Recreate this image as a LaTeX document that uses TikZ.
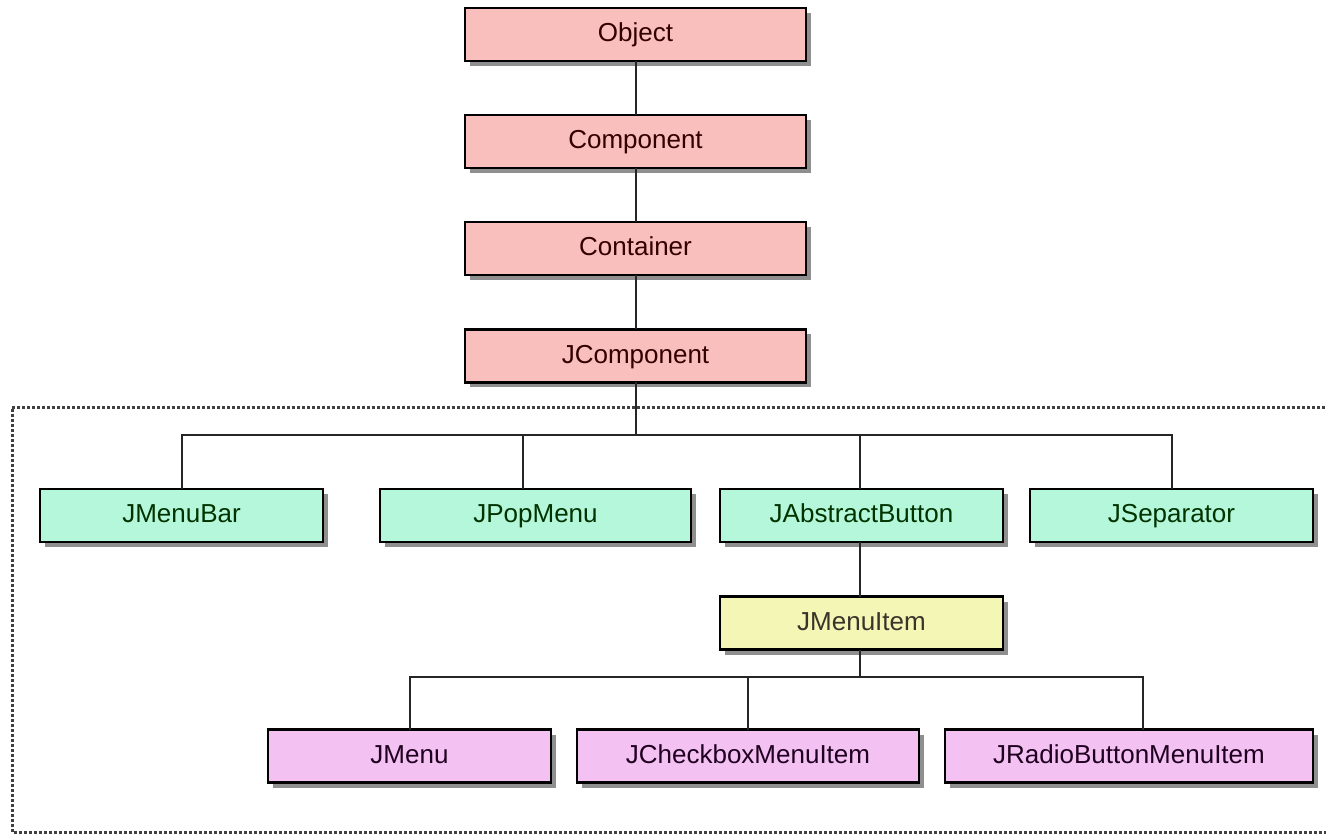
\documentclass[tikz,border=0pt]{standalone}
\usepackage{fontspec}
\setmainfont{Liberation Sans}
\usetikzlibrary{shadows}
\definecolor{rosefill}{HTML}{F9BFBC}
\definecolor{mintfill}{HTML}{B4F7DA}
\definecolor{lemonfill}{HTML}{F3F6B4}
\definecolor{lilacfill}{HTML}{F4C2F2}
\tikzset{
  cls/.style={draw=black, line width=2.4pt, inner sep=0pt, outer sep=0pt,
    minimum height=53pt, minimum width=283pt,
    text height=19pt, text depth=5pt,
    font=\fontsize{26}{30}\selectfont,
    drop shadow={shadow xshift=5pt, shadow yshift=-5pt, fill=black!55, opacity=0.8}},
  rosebox/.style={cls, fill=rosefill, text=black!80!red, minimum width=341pt},
  mintbox/.style={cls, fill=mintfill, text=black!80!green},
  lemonbox/.style={cls, fill=lemonfill, text=black!80!olive},
  lilacbox/.style={cls, fill=lilacfill, text=black!75!violet},
  link/.style={line width=2pt, draw=black!85}
}
\begin{document}
\begin{tikzpicture}[x=1pt, y=-1pt]
			%%%%% FRAME %%%%%
			\useasboundingbox (0, 0) rectangle (1326, 834);
			\fill[white] (0, 0) rectangle (1326, 834);
			\draw[line width=3pt, dotted, black!75] (1330, 407) -- (12, 407) -- (12, 832) -- (1330, 832);
			
			%%%%% CLASSES %%%%%
			\node[rosebox] (object) at (635.5, 34.5) {Object};
			\node[rosebox] (component) at (635.5, 141.5) {Component};
			\node[rosebox] (container) at (635.5, 248.5) {Container};
			\node[rosebox] (jcomponent) at (635.5, 356) {JComponent};
			
			\node[mintbox] (menubar) at (181.5, 515.5) {JMenuBar};
			\node[mintbox, minimum width=311pt] (popmenu) at (535.5, 515.5) {JPopMenu};
			\node[mintbox] (abstractbtn) at (861.5, 515.5) {JAbstractButton};
			\node[mintbox] (separator) at (1171.5, 515.5) {JSeparator};
			
			\node[lemonbox] (menuitem) at (861.5, 623) {JMenuItem};
			
			\node[lilacbox] (menu) at (409.5, 756) {JMenu};
			\node[lilacbox, minimum width=342pt] (checkitem) at (748, 756) {JCheckboxMenuItem};
			\node[lilacbox, minimum width=368pt] (radioitem) at (1129, 756) {JRadioButtonMenuItem};
			
			%%%%% LINKS %%%%%
			\coordinate (busA) at (636, 435);
			\coordinate (busB) at (860, 677);
			
			\draw[link] (object) -- (component);
			\draw[link] (component) -- (container);
			\draw[link] (container) -- (jcomponent);
			\draw[link] (jcomponent.south) -- (jcomponent.south |- busA);
			\draw[link] (menubar.north) |- (busA);
			\draw[link] (separator.north) |- (busA);
			\draw[link] ([xshift=-12.5pt]popmenu.north) -- ([xshift=-12.5pt]popmenu.north |- busA);
			\draw[link] ([xshift=-1.5pt]abstractbtn.north) -- ([xshift=-1.5pt]abstractbtn.north |- busA);
			\draw[link] ([xshift=-1.5pt]abstractbtn.south) -- ([xshift=-1.5pt]menuitem.north);
			\draw[link] ([xshift=-1.5pt]menuitem.south) -- (busB);
			\draw[link] (menu.north) |- (busB);
			\draw[link] ([xshift=14pt]radioitem.north) |- (busB);
			\draw[link] (checkitem.north) -- (checkitem.north |- busB);
			
			%%%%% END %%%%%
\end{tikzpicture}
\end{document}
